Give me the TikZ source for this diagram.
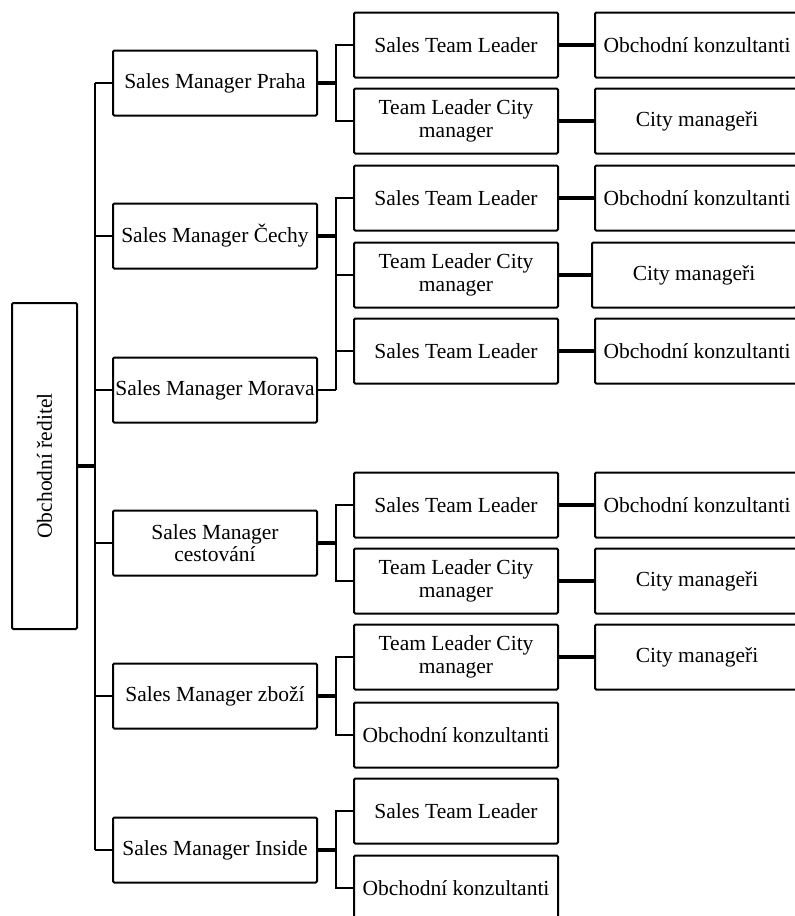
\documentclass[tikz,border=0pt]{standalone}
\usepackage{fontspec}
\setmainfont{Liberation Serif}
\usepackage{tikz}

\begin{document}
\begin{tikzpicture}[x=0.5pt, y=-0.5pt,
		box/.style={draw, line width=1pt, rounded corners=0.6pt, minimum width=102pt, minimum height=32.5pt, inner sep=1pt, align=center, font=\fontsize{10.75}{11.3}\selectfont},
		conn/.style={line width=1.3pt},
		bold/.style={line width=2.2pt}]
			\clip (0,0) rectangle (795,916);

			\node[box, rotate=90, minimum width=163pt] (root) at (44.5,466) {Obchodní ředitel};

			\node[box] (praha) at (215,83) {Sales Manager Praha};
			\node[box] (cechy) at (215,236) {Sales Manager Čechy};
			\node[box, inner sep=0pt] (morava) at (215,390) {Sales Manager Morava};
			\node[box] (cestovani) at (215,543) {Sales Manager\\cestování};
			\node[box] (zbozi) at (215,696) {Sales Manager zboží};
			\node[box] (inside) at (215,850) {Sales Manager Inside};

			\node[box] (praha1) at (456,45) {Sales Team Leader};
			\node[box] (praha2) at (456,121) {Team Leader City\\manager};
			\node[box] (cechy1) at (456,198) {Sales Team Leader};
			\node[box] (cechy2) at (456,275) {Team Leader City\\manager};
			\node[box] (morava1) at (456,351) {Sales Team Leader};
			\node[box] (cestovani1) at (456,505) {Sales Team Leader};
			\node[box] (cestovani2) at (456,581) {Team Leader City\\manager};
			\node[box] (zbozi1) at (456,657) {Team Leader City\\manager};
			\node[box] (zbozi2) at (456,735) {Obchodní konzultanti};
			\node[box] (inside1) at (456,811) {Sales Team Leader};
			\node[box] (inside2) at (456,888) {Obchodní konzultanti};

			\node[box] (praha1a) at (697,45) {Obchodní konzultanti};
			\node[box] (praha2a) at (697,121) {City manageři};
			\node[box] (cechy1a) at (697,198) {Obchodní konzultanti};
			\node[box] (cechy2a) at (694,275) {City manageři};
			\node[box] (morava1a) at (697,351) {Obchodní konzultanti};
			\node[box] (cestovani1a) at (697,505) {Obchodní konzultanti};
			\node[box] (cestovani2a) at (697,581) {City manageři};
			\node[box] (zbozi1a) at (697,657) {City manageři};

			\coordinate (trunk) at (95,466);
			\coordinate (bus) at (336,0);

			\draw[bold] (root.south) -- (trunk);
			\draw[conn] (praha.west -| trunk) -- (inside.west -| trunk);
			\foreach \m in {praha,cechy,morava,cestovani,zbozi,inside}
				\draw[conn] (\m.west -| trunk) -- (\m.west);

			\foreach \m in {praha,cechy,cestovani,zbozi,inside}
				\draw[bold] (\m.east) -- (\m.east -| bus);
			\draw[conn] (morava.east) -- (morava.east -| bus);

			\draw[conn] (praha1.west) -- (praha1.west -| bus) -- (praha2.west -| bus) -- (praha2.west);
			\draw[conn] (cechy1.west) -- (cechy1.west -| bus) -- (morava.east -| bus);
			\draw[conn] (cechy2.west) -- (cechy2.west -| bus);
			\draw[conn] (morava1.west) -- (morava1.west -| bus);
			\draw[conn] (cestovani1.west) -- (cestovani1.west -| bus) -- (cestovani2.west -| bus) -- (cestovani2.west);
			\draw[conn] (zbozi1.west) -- (zbozi1.west -| bus) -- (zbozi2.west -| bus) -- (zbozi2.west);
			\draw[conn] (inside1.west) -- (inside1.west -| bus) -- (inside2.west -| bus) -- (inside2.west);

			\foreach \a in {praha1,praha2,cechy1,cechy2,morava1,cestovani1,cestovani2,zbozi1}
				\draw[bold] (\a.east) -- (\a a.west);
		\end{tikzpicture}
\end{document}
